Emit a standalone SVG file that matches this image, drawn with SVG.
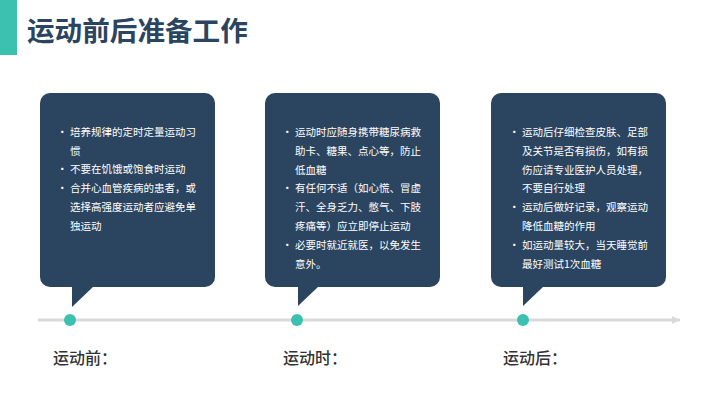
<svg xmlns="http://www.w3.org/2000/svg" width="720" height="405" viewBox="0 0 720 405">
<style>
.box{fill:#2B4560}
.tx{font-family:"Noto Sans CJK SC","Noto Sans",sans-serif;font-size:10.5px;fill:#FFFFFF}
.lb{font-family:"Noto Sans CJK SC","Noto Sans",sans-serif;font-size:16px;font-weight:500;fill:#333333}
.dot{fill:#3CC1B0}
</style>
<defs>
<marker id="arr" markerWidth="8" markerHeight="8" refX="8" refY="4" orient="auto" markerUnits="userSpaceOnUse">
<path d="M0,0 L8,4 L0,8 Z" fill="#D9D9D9"/>
</marker>
</defs>
<rect width="720" height="405" fill="#FFFFFF"/>
<g id="title">
<rect x="0" y="0" width="17" height="55" fill="#3CC1B0"/>
<text x="27" y="41" font-family="'Noto Sans CJK SC','Noto Sans',sans-serif" font-size="27.6" font-weight="bold" fill="#2B4560">运动前后准备工作</text>
</g>
<g id="connectors">
<line x1="38" y1="320" x2="680" y2="320" stroke="#D9D9D9" stroke-width="3" marker-end="url(#arr)"/>
</g>
<g id="box1">
<rect class="box" x="40" y="93" width="175" height="194" rx="10"/>
<path class="box" d="M72,286 L94,286 L72,307 Z"/>
<g class="tx">
<text x="57" y="136">•</text><text x="70" y="136">培养规律的定时定量运动习</text>
<text x="70" y="154.7">惯</text>
<text x="57" y="173.4">•</text><text x="70" y="173.4">不要在饥饿或饱食时运动</text>
<text x="57" y="192.1">•</text><text x="70" y="192.1">合并心血管疾病的患者，或</text>
<text x="70" y="210.8">选择高强度运动者应避免单</text>
<text x="70" y="229.5">独运动</text>
</g>
</g>
<g id="box2">
<rect class="box" x="265" y="93" width="175" height="194" rx="10"/>
<path class="box" d="M298,286 L319,286 L298,306 Z"/>
<g class="tx">
<text x="282" y="136">•</text><text x="295" y="136">运动时应随身携带糖尿病救</text>
<text x="295" y="154.8">助卡、糖果、点心等，防止</text>
<text x="295" y="173.6">低血糖</text>
<text x="282" y="192.4">•</text><text x="295" y="192.4">有任何不适（如心慌、冒虚</text>
<text x="295" y="211.2">汗、全身乏力、憋气、下肢</text>
<text x="295" y="230">疼痛等）应立即停止运动</text>
<text x="282" y="248.8">•</text><text x="295" y="248.8">必要时就近就医，以免发生</text>
<text x="295" y="267.6">意外。</text>
</g>
</g>
<g id="box3">
<rect class="box" x="491" y="93" width="175" height="194" rx="10"/>
<path class="box" d="M523,286 L544,286 L523,306 Z"/>
<g class="tx">
<text x="509" y="136">•</text><text x="522" y="136">运动后仔细检查皮肤、足部</text>
<text x="522" y="154.8">及关节是否有损伤，如有损</text>
<text x="522" y="173.6">伤应请专业医护人员处理，</text>
<text x="522" y="192.4">不要自行处理</text>
<text x="509" y="211.2">•</text><text x="522" y="211.2">运动后做好记录，观察运动</text>
<text x="522" y="230">降低血糖的作用</text>
<text x="509" y="248.8">•</text><text x="522" y="248.8">如运动量较大，当天睡觉前</text>
<text x="522" y="267.6">最好测试1次血糖</text>
</g>
</g>
<g id="node1">
<circle class="dot" cx="70" cy="320" r="6"/>
<text class="lb" x="53" y="364">运动前：</text>
</g>
<g id="node2">
<circle class="dot" cx="297" cy="320" r="6"/>
<text class="lb" x="283" y="364">运动时：</text>
</g>
<g id="node3">
<circle class="dot" cx="523" cy="320" r="6"/>
<text class="lb" x="503" y="364">运动后：</text>
</g>
</svg>
